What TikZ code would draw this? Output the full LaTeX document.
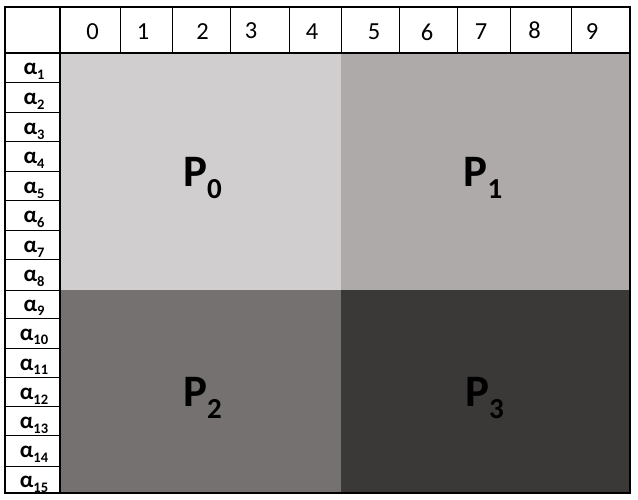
\documentclass[tikz,border=0pt]{standalone}
\usepackage{fontspec}
\setmainfont{Carlito}
\definecolor{pzero}{HTML}{D0CECE}
\definecolor{pone}{HTML}{AEAAAA}
\definecolor{ptwo}{HTML}{767171}
\definecolor{pthree}{HTML}{3B3838}
\newcommand{\alab}[1]{{\fontsize{23}{23}\selectfont\bfseries α\raisebox{-5pt}{\fontsize{14.5}{14.5}\selectfont #1}}}
\newcommand{\plab}[1]{{\fontsize{45}{45}\selectfont\bfseries P\raisebox{-12pt}{\fontsize{29}{29}\selectfont #1}}}
\begin{document}
\begin{tikzpicture}[x=1pt,y=-1pt,
  thinline/.style={line width=1pt,black},
  thickline/.style={line width=2pt,black},
  digit/.style={inner sep=0pt,font=\fontsize{24.5}{24.5}\selectfont},
  alabel/.style={inner sep=0pt,anchor=base},
  plabel/.style={inner sep=0pt,anchor=base}]
\useasboundingbox (0,0) rectangle (638,500);
\fill[white] (0,0) rectangle (638,500);
% blocks
\fill[pzero] (60,53) rectangle (341,290);
\fill[pone] (341,53) rectangle (630,290);
\fill[ptwo] (60,290) rectangle (341,493);
\fill[pthree] (341,290) rectangle (630,493);
% header column lines
\foreach \x in {120,172,230,289,341,399,457,510,571}
  \draw[thinline] (\x,7) -- (\x,53);
% left column row lines
\foreach \y in {83,113,142,172,201,231,260,290,318,348,377,406,435,466}
  \draw[thinline] (5,\y) -- (60,\y);
% thick lines
\draw[thickline] (5,7) rectangle (630,493);
\draw[thickline] (5,53) -- (630,53);
\draw[thickline] (60,7) -- (60,493);
% header digits
\foreach \d/\x/\y in {0/92.5/32,1/143/32,2/202.5/32,3/251/31,4/312/32,5/374/32,6/427/32,7/481/32,8/534.5/30,9/592/32}
  \node[digit] (h\d) at (\x,\y) {\d};
% alpha labels
\foreach \i/\y in {1/75,2/105,3/135,4/164,5/194,6/223,7/253,8/282,9/311,10/340,11/370,12/399,13/428,14/457,15/487}
  \node[alabel] (a\i) at (34,\y) {\alab{\i}};
% block labels
\node[plabel] (p0) at (202.5,187) {\plab{0}};
\node[plabel] (p1) at (483,187) {\plab{1}};
\node[plabel] (p2) at (202.5,406) {\plab{2}};
\node[plabel] (p3) at (484.5,406) {\plab{3}};
\end{tikzpicture}
\end{document}
